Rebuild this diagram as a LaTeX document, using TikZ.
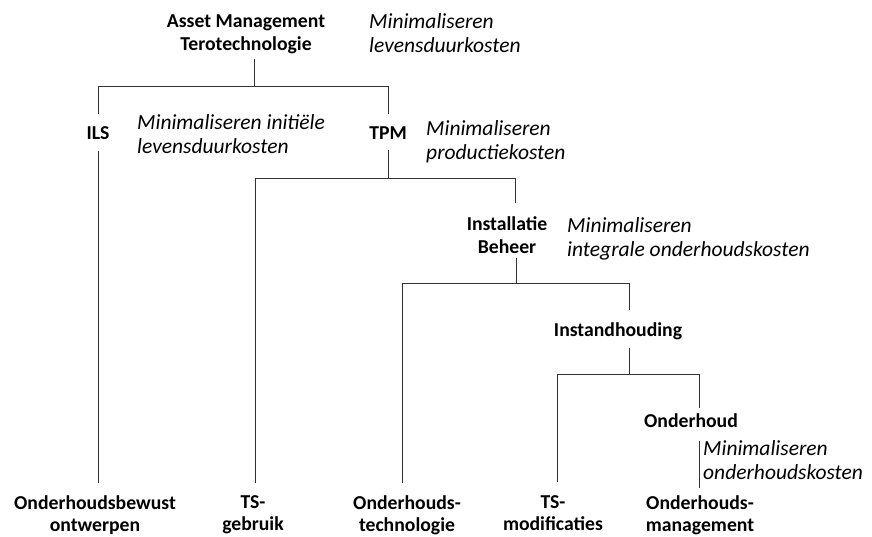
\documentclass[tikz,border=0pt]{standalone}
\usepackage{fontspec}
\setmainfont{Carlito}
\begin{document}
\begin{tikzpicture}[x=1pt,y=-1pt,
  bt/.style={font=\fontsize{19.7}{23}\selectfont\bfseries, align=center, inner sep=0pt, anchor=center},
  bb/.style={bt, anchor=north, font=\fontsize{19.7}{22}\selectfont\bfseries},
  it/.style={font=\fontsize{21.5}{24}\selectfont\itshape, align=left, inner sep=0pt, anchor=west},
  conn/.style={draw=black!80, line width=0.9pt}]
\useasboundingbox (0,0) rectangle (872,537);
% junction corners
\coordinate (c1l) at (98,86);  \coordinate (c1m) at (254,86);  \coordinate (c1r) at (388,86);
\coordinate (c2l) at (255,178); \coordinate (c2m) at (388,178); \coordinate (c2r) at (515,178);
\coordinate (c3l) at (402,283); \coordinate (c3m) at (516,283); \coordinate (c3r) at (629,283);
\coordinate (c4l) at (557,374); \coordinate (c4m) at (629,374); \coordinate (c4r) at (699,374);
% nodes
\node[bt] (am) at (246,34.2) {Asset Management\\Terotechnologie};
\node[it] (amt) at (369,33) {Minimaliseren\\levensduurkosten};
\node[bt] (ils) at (98,133.3) {ILS};
\node[it] (ilst) at (137,134) {Minimaliseren initiële\\levensduurkosten};
\node[bt] (tpm) at (388,133.3) {TPM};
\node[it] (tpmt) at (426,142) {Minimaliseren\\productiekosten};
\node[bt] (inst) at (507,235) {Installatie\\Beheer};
\node[it] (instt) at (567,239) {Minimaliseren\\integrale onderhoudskosten};
\node[bt] (ih) at (618,331) {Instandhouding};
\node[bt] (oh) at (691,421) {Onderhoud};
\node[it] (oht) at (703,460.5) {Minimaliseren\\onderhoudskosten};
\node[bb] (obo) at (95,495) {Onderhoudsbewust\\ontwerpen};
\node[bb] (tsg) at (253,495) {TS-\\gebruik};
\node[bb] (ot) at (407,495) {Onderhouds-\\technologie};
\node[bb] (tsm) at (553,495) {TS-\\modificaties};
\node[bb] (om) at (700,495) {Onderhouds-\\management};
% connectors
\draw[conn, shorten <=5pt] (c1m |- am.south) -- (c1m);
\draw[conn, shorten <=13pt, shorten >=13pt] (c1l |- ils.north) -- (c1l) -- (c1r) -- (c1r |- tpm.north);
\draw[conn, shorten <=10.5pt, shorten >=12pt] (c1l |- ils.south) -- (c1l |- obo.north);
\draw[conn, shorten <=10.5pt] (c2m |- tpm.south) -- (c2m);
\draw[conn, shorten <=12pt, shorten >=13pt] (c2l |- tsg.north) -- (c2l) -- (c2r) -- (c2r |- inst.north);
\draw[conn, shorten <=4pt] (c3m |- inst.south) -- (c3m);
\draw[conn, shorten <=12pt, shorten >=12pt] (c3l |- ot.north) -- (c3l) -- (c3r) -- (c3r |- ih.north);
\draw[conn, shorten <=8pt] (c4m |- ih.south) -- (c4m);
\draw[conn, shorten <=13pt, shorten >=6pt] (c4l |- tsm.north) -- (c4l) -- (c4r) -- (c4r |- oh.north);
\draw[conn, shorten <=13pt, shorten >=7pt] (c4r |- oh.south) -- (c4r |- om.north);
\end{tikzpicture}
\end{document}
